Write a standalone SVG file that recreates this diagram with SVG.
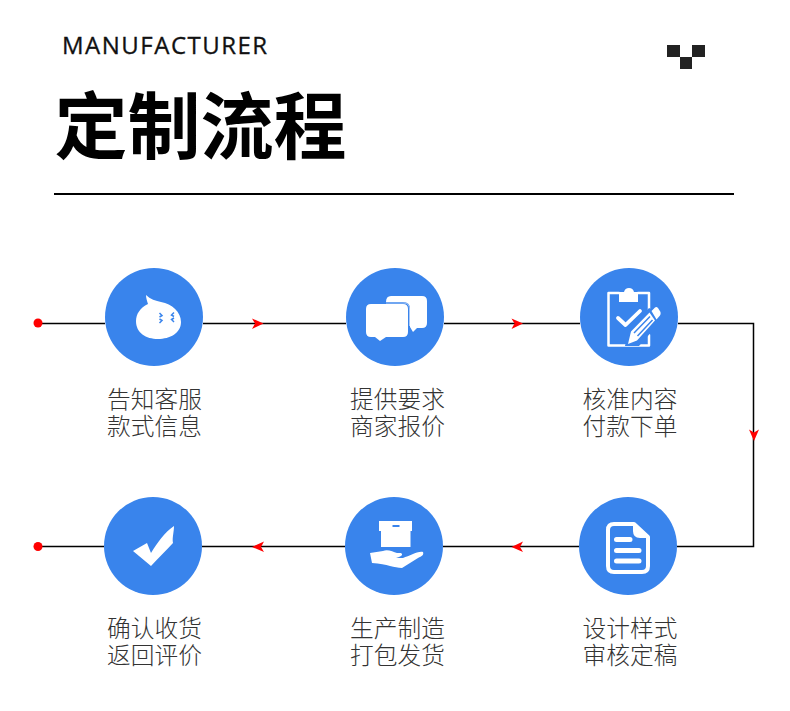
<svg xmlns="http://www.w3.org/2000/svg" width="790" height="711" viewBox="0 0 790 711">
<style>
.c{fill:#3984ec}
.l{fill:none;stroke:#000;stroke-width:1.5}
.a{fill:#f00}
.d{fill:#f00}
.t{font-family:"Noto Sans CJK SC","Liberation Sans",sans-serif;font-size:23.700px;font-weight:300;fill:#333;text-anchor:middle}
.w{fill:#fff}
.s{fill:none;stroke:#fff;stroke-linecap:round;stroke-linejoin:round}
.e{fill:none;stroke:#3984ec;stroke-width:1.500}
</style>
<rect width="790" height="711" fill="#fff"/>
<g id="header">
<text x="62" y="54" font-family="'Open Sans','Noto Sans',sans-serif" font-size="24" letter-spacing="1.500" fill="#111" stroke="#111" stroke-width=".3">MANUFACTURER</text>
<text x="54.500" y="153" font-family="'Noto Sans CJK SC',sans-serif" font-weight="700" font-size="73" fill="#000">定制流程</text>
<path d="M667 45h13v12h-13zM680 57h12v12h-12zM692 45h13v12h-13z" fill="#222"/>
<rect x="54" y="193" width="680" height="2" fill="#000"/>
</g>
<g id="connectors">
<path class="l" d="M38 323.500H105M203 323.500H346M444 323.500H580M678 323.500H753.500V546.500H677M579 546.500H443M345 546.500H202M104 546.500H38"/>
<circle class="d" cx="38" cy="323" r="4.500"/>
<circle class="d" cx="38" cy="546.500" r="4.500"/>
<path class="a" d="M263.500 323.500L252 318.500L255 323.500L252 329Z"/>
<path class="a" d="M523 323.500L511.500 318.500L514.500 323.500L511.500 329Z"/>
<path class="a" d="M754 441L749 429.500L754 432.500L759 429.500Z"/>
<path class="a" d="M511.500 547L523 541.500L520 547L523 552Z"/>
<path class="a" d="M252 547L264 541.500L261 547L264 552Z"/>
</g>
<g id="node-1">
<circle class="c" cx="154" cy="317" r="49"/>
<path class="w" d="M146 295C150 299 156 301 161 302C172 304 181 312 181 322C181 333 170 339 158 339C146 339 136 333 136 321C136 314 140 308 148 304C147 301 146 298 146 295Z"/>
<path class="e" d="M159.500 313L162 315.500L159.500 317M159.500 323L162 320.500L159.500 319M174 312.500L171.500 315L174 316.500M174 322L171.500 319.500L174 318"/>
<text class="t"><tspan x="154.500" y="408">告知客服</tspan><tspan x="154.500" y="435">款式信息</tspan></text>
</g>
<g id="node-2">
<circle class="c" cx="395" cy="317" r="49"/>
<path class="w" d="M391 296H422Q427 296 427 301V323Q427 328 422 328H417L413 332L410 327V309Q410 302 403 302H386Q386 296 391 296Z"/>
<path class="e" stroke="#a9c8f6" style="stroke:#a9c8f6;stroke-width:1" d="M386 303H404Q409.500 303 409.500 309V326"/>
<path class="w" d="M371 304H403Q408 304 408 309V332Q408 337 403 337H386L380 341L375 337H371Q366 337 366 332V309Q366 304 371 304Z"/>
<text class="t"><tspan x="397.500" y="408">提供要求</tspan><tspan x="397.500" y="435">商家报价</tspan></text>
</g>
<g id="node-3">
<circle class="c" cx="629" cy="317" r="49"/>
<path class="s" stroke-width="2.500" d="M619 293H608.500V345.500H649V335M638 293H649V311"/>
<path class="w" d="M619 292H624Q625 288 629 288Q633 288 634 292H638V302H619Z"/>
<path class="s" stroke-width="3.800" d="M618 318L625.500 325L640 311"/>
<path class="c" d="M649 308L664 315L655 328L639 346L625 346L628 332Z"/>
<path class="w" d="M651.500 311L655 307.500Q656.500 306.500 658 308L660.500 312Q661 314 660 315.500L656.500 319.500ZM649.500 312.500L655 320.500L637 340.500L628 344L631 331.500Z"/>
<path class="e" d="M634 333L650 316.500M637.500 336L652.500 320"/>
<text class="t"><tspan x="630" y="408">核准内容</tspan><tspan x="630" y="435">付款下单</tspan></text>
</g>
<g id="node-4">
<circle class="c" cx="628" cy="546" r="49"/>
<path class="s" stroke-width="4" d="M614 524H634L648 537V566Q648 572 642 572H614Q608 572 608 566V530Q608 524 614 524Z"/>
<path class="w" d="M633 523L650 538H640Q633 538 633 531Z"/>
<path class="s" stroke-width="5" d="M616.500 539.500H630M616.500 550.500H639M616.500 561H639"/>
<text class="t"><tspan x="630" y="637">设计样式</tspan><tspan x="630" y="664">审核定稿</tspan></text>
</g>
<g id="node-5">
<circle class="c" cx="394" cy="546" r="49"/>
<path class="w" d="M379 521H412V531H410.500V547H381V531H379Z"/>
<path class="c" d="M392.500 525H399.500V527H392.500Z"/>
<path class="w" d="M370 553L383 551C388 549 393 552 397 553L401 553Q404 555 399 557L396 558L403 558C410 556 417 551 423 552C424 555 422 556 418 558L402 568C394 568 388 564 372 563Z"/>
<text class="t"><tspan x="397.500" y="637">生产制造</tspan><tspan x="397.500" y="664">打包发货</tspan></text>
</g>
<g id="node-6">
<circle class="c" cx="153" cy="546" r="49"/>
<path class="w" d="M174 526C174 532 172 538 173 543C166 551 158 558 151 566L133 551L147 543L151 553C157 543 165 532 174 526Z"/>
<text class="t"><tspan x="154.500" y="637">确认收货</tspan><tspan x="154.500" y="664">返回评价</tspan></text>
</g>
</svg>
